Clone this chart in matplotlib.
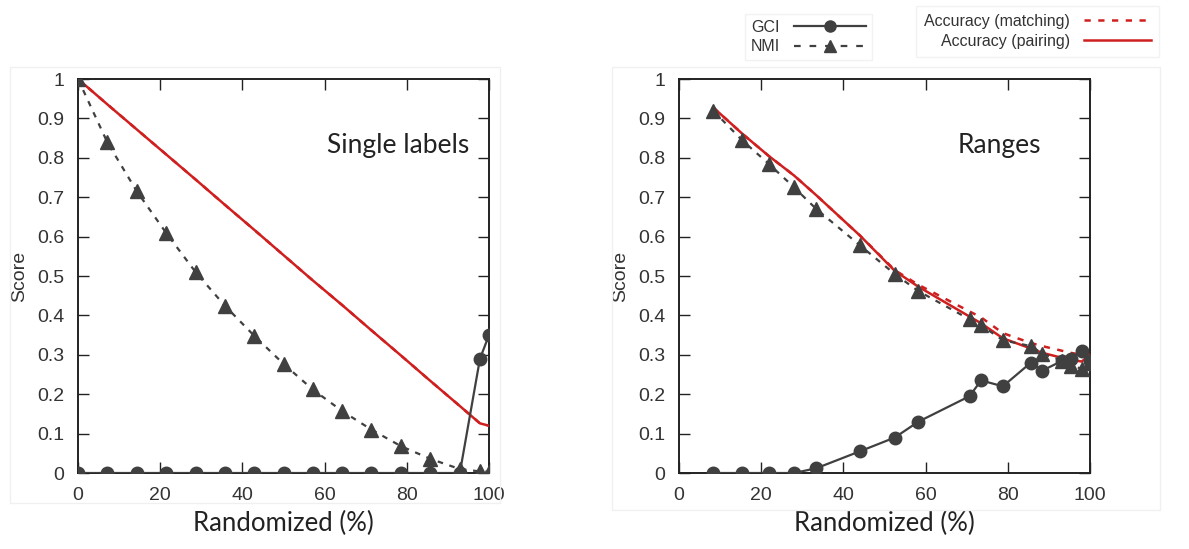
import matplotlib
matplotlib.use('Agg')
import matplotlib.pyplot as plt
from matplotlib.lines import Line2D
from matplotlib.patches import Rectangle
from matplotlib.ticker import FuncFormatter

# Data: single labels (left panel)
x_single = [0, 7.1, 14.3, 21.4, 28.6, 35.7, 42.9, 50, 57.1, 64.3, 71.4, 78.6, 85.7, 92.9, 97.8, 100]
gci_single = [0, 0, 0, 0, 0, 0, 0, 0, 0, 0, 0, 0, 0, 0, 0.29, 0.35]
nmi_single = [1.0, 0.84, 0.715, 0.61, 0.51, 0.425, 0.348, 0.277, 0.212, 0.157, 0.11, 0.068,
              0.036, 0.01, 0.004, 0.003]
pairing_single = [1.0, 0.936, 0.872, 0.809, 0.745, 0.681, 0.617, 0.553, 0.489, 0.426, 0.362,
                  0.298, 0.234, 0.170, 0.126, 0.12]
matching_single = pairing_single

# Data: ranges (right panel)
x_ranges = [8.3, 15.3, 21.8, 28.0, 33.4, 44.0, 52.5, 58.2, 70.7, 73.5, 78.8, 85.6, 88.4,
            93.3, 95.3, 98.0, 100]
gci_ranges = [0, 0, 0, 0, 0.012, 0.055, 0.09, 0.13, 0.195, 0.235, 0.22, 0.28, 0.26,
              0.285, 0.29, 0.31, 0.285]
nmi_ranges = [0.92, 0.845, 0.785, 0.725, 0.67, 0.578, 0.505, 0.462, 0.39, 0.375, 0.337,
              0.322, 0.303, 0.285, 0.272, 0.265, 0.28]
pairing_ranges = [0.928, 0.862, 0.805, 0.755, 0.705, 0.603, 0.513, 0.473, 0.397, 0.38, 0.342,
                  0.316, 0.305, 0.292, 0.287, 0.283, 0.30]
matching_ranges = [0.928, 0.862, 0.805, 0.755, 0.705, 0.603, 0.515, 0.478, 0.41, 0.395, 0.355,
                   0.33, 0.322, 0.31, 0.305, 0.30, 0.30]

panel_titles = ['Single labels', 'Ranges']
xticks = [0, 20, 40, 60, 80, 100]
yticks = [0, 0.1, 0.2, 0.3, 0.4, 0.5, 0.6, 0.7, 0.8, 0.9, 1]

gray = '#404040'
red = '#d01f1f'
text_font = 'Lato'

plt.rcParams['font.family'] = ['Liberation Sans', 'DejaVu Sans']

fig = plt.figure(figsize=(11.89, 5.49), dpi=100)

# faint frames around each panel
fig.patches.append(Rectangle((10 / 1189, 1 - 503 / 549), 490 / 1189, 436 / 549,
                             transform=fig.transFigure, fill=False, ec='#f0f0f0', lw=1))
fig.patches.append(Rectangle((612 / 1189, 1 - 510 / 549), 548 / 1189, 443 / 549,
                             transform=fig.transFigure, fill=False, ec='#f0f0f0', lw=1))

ax1 = fig.add_axes([78 / 1189, 1 - 473 / 549, 411 / 1189, 394 / 549])
ax2 = fig.add_axes([679 / 1189, 1 - 473 / 549, 411 / 1189, 394 / 549])

panels = [
    (ax1, x_single, gci_single, nmi_single, matching_single, pairing_single),
    (ax2, x_ranges, gci_ranges, nmi_ranges, matching_ranges, pairing_ranges),
]

for i, (ax, x, gci, nmi, match, pair) in enumerate(panels):
    ax.plot(x, match, color=red, lw=1.8, ls=(0, (2.5, 3)), zorder=2)
    ax.plot(x, pair, color=red, lw=1.8, zorder=3)
    ax.plot(x, nmi, color=gray, lw=1.6, ls=(0, (2.5, 3)), marker='^', ms=10,
            mfc=gray, mec=gray, zorder=4)
    ax.plot(x, gci, color=gray, lw=1.6, marker='o', ms=9, mfc=gray, mec=gray, zorder=5)

    ax.set_xlim(0, 100)
    ax.set_ylim(0, 1)
    ax.set_xticks(xticks)
    ax.set_yticks(yticks)
    ax.yaxis.set_major_formatter(FuncFormatter(lambda v, p: '%g' % round(v, 1)))
    ax.tick_params(direction='in', length=8, width=1, top=True, right=True,
                   labelsize=14, labelcolor='#333333', color='#222222', pad=10)
    for s in ax.spines.values():
        s.set_linewidth(1.4)
        s.set_color('#222222')
    ax.set_ylabel('Score', fontsize=14, color='#333333', labelpad=6)
    ax.set_xlabel('Randomized (%)', fontsize=18.5, family=text_font, color='#222222', labelpad=5)
    ax.text(78, 0.83, panel_titles[i], fontsize=19, family=text_font, color='#222222',
            ha='center', va='center')

# legends
h_gci = Line2D([], [], color=gray, lw=1.6, marker='o', ms=8, mfc=gray, mec=gray)
h_nmi = Line2D([], [], color=gray, lw=1.6, ls=(0, (3, 4)), marker='^', ms=9, mfc=gray, mec=gray)
h_match = Line2D([], [], color=red, lw=1.8, ls=(0, (2.5, 3)))
h_pair = Line2D([], [], color=red, lw=1.8)

leg1 = fig.legend([h_gci, h_nmi], ['GCI', 'NMI'], loc='upper left',
                  bbox_to_anchor=(737 / 1189, 1 - 6 / 549), markerfirst=False, numpoints=1,
                  handlelength=4.5, frameon=True, fancybox=False, framealpha=1,
                  edgecolor='#f2f2f2', labelspacing=0.3, borderpad=0.35, handletextpad=0.9,
                  prop={'size': 11.5})
leg2 = fig.legend([h_match, h_pair], ['Accuracy (matching)', 'Accuracy (pairing)'],
                  loc='upper left', bbox_to_anchor=(908 / 1189, 1 + 2 / 549),
                  markerfirst=False, handlelength=4.2, frameon=True, fancybox=False,
                  framealpha=1, edgecolor='#f2f2f2', labelspacing=0.3, borderpad=0.5,
                  handletextpad=0.9, prop={'size': 11.5})
for leg in (leg1, leg2):
    for t in leg.get_texts():
        t.set_color('#333333')
        t.set_ha('right')

fig.savefig('out.png', dpi=100)
